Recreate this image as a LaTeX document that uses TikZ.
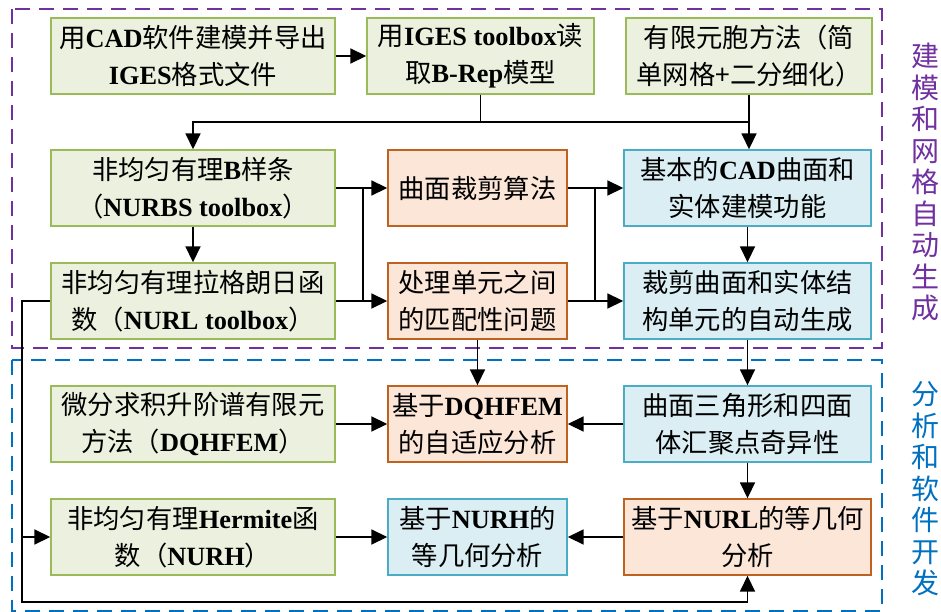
\documentclass[tikz,border=0pt]{standalone}
\usepackage{fontspec}
\setmainfont{Noto Sans CJK SC}
\newfontfamily\latfont{Liberation Serif}
\newcommand\la[1]{{\latfont\bfseries #1}}
\usetikzlibrary{arrows.meta}
\definecolor{gfill}{HTML}{EBF1DE}
\definecolor{gline}{HTML}{9BBB59}
\definecolor{ofill}{HTML}{FCE6D8}
\definecolor{oline}{HTML}{C0621F}
\definecolor{bfill}{HTML}{DAEEF3}
\definecolor{bline}{HTML}{4BACC6}
\definecolor{purp}{HTML}{7030A0}
\definecolor{blu}{HTML}{0070C0}
\tikzset{
  boxbase/.style={draw, line width=1.4pt, inner sep=0pt, align=center,
    minimum height=76pt, text=black, font=\fontsize{26.3}{37}\selectfont},
  gbox/.style={boxbase, fill=gfill, draw=gline},
  obox/.style={boxbase, fill=ofill, draw=oline},
  bbox/.style={boxbase, fill=bfill, draw=bline},
  conn/.style={draw=black, line width=1.7pt},
  arr/.style={conn, -{Triangle[length=16pt,width=15pt]}},
  frame/.style={line width=2pt, dash pattern=on 15pt off 9pt},
  sidelab/.style={align=center, inner sep=0pt, font=\fontsize{28}{31.5}\selectfont}
}
\begin{document}
\begin{tikzpicture}[x=1pt,y=-1pt]
\useasboundingbox (0,0) rectangle (941,612);
% frames
\draw[frame, draw=purp] (12,9) rectangle (882,348);
\draw[frame, draw=blu] (12,360) rectangle (882,611);
% side labels
\node[sidelab, text=purp] (lab1) at (925,182) {建\\模\\和\\网\\格\\自\\动\\生\\成};
\node[sidelab, text=blu] (lab2) at (925,489) {分\\析\\和\\软\\件\\开\\发};
% row 1
\node[gbox, minimum width=284pt] (b11) at (193,56) {用\la{CAD}软件建模并导出\\\la{IGES}格式文件};
\node[gbox, minimum width=227pt] (b12) at (480.5,56) {用\la{IGES toolbox}读\\取\la{B-Rep}模型};
\node[gbox, minimum width=246pt] (b13) at (749,56) {有限元胞方法（简\\单网格+二分细化）};
% row 2
\node[gbox, minimum width=284pt] (b21) at (193,188) {非均匀有理\la{B}样条\\（\la{NURBS toolbox}）};
\node[obox, minimum width=179pt] (b22) at (477.5,188) {曲面裁剪算法};
\node[bbox, minimum width=247pt] (b23) at (747.5,188) {基本的\la{CAD}曲面和\\实体建模功能};
% row 3
\node[gbox, minimum width=284pt] (b31) at (193,301) {非均匀有理拉格朗日函\\数（\la{NURL toolbox}）};
\node[obox, minimum width=179pt] (b32) at (477.5,301) {处理单元之间\\的匹配性问题};
\node[bbox, minimum width=247pt] (b33) at (747.5,301) {裁剪曲面和实体结\\构单元的自动生成};
% row 4
\node[gbox, minimum width=284pt] (b41) at (193,424) {微分求积升阶谱有限元\\方法（\la{DQHFEM}）};
\node[obox, minimum width=179pt] (b42) at (477.5,424) {基于\la{DQHFEM}\\的自适应分析};
\node[bbox, minimum width=247pt] (b43) at (747.5,424) {曲面三角形和四面\\体汇聚点奇异性};
% row 5
\node[gbox, minimum width=284pt] (b51) at (193,537) {非均匀有理\la{Hermite}函\\数（\la{NURH}）};
\node[bbox, minimum width=179pt] (b52) at (477.5,537) {基于\la{NURH}的\\等几何分析};
\node[obox, minimum width=247pt] (b53) at (747.5,537) {基于\la{NURL}的等几何\\分析};
% junction coordinates
\coordinate (j1) at (748,122);
\coordinate (v1a) at (363,188);
\coordinate (v1b) at (363,301);
\coordinate (v2a) at (595,188);
\coordinate (v2b) at (595,301);
\coordinate (lp1) at (22,301);
\coordinate (lp2) at (22,602);
\coordinate (lp3) at (22,537);
% connectors
\draw[arr] (b11.east) -- (b12.west);
\draw[conn] (b12.south) -- (b12.south |- j1);
\draw[arr] (j1) -| (b21.north);
\draw[arr] (b13.south) -- (b13.south |- b23.north);
\draw[arr] (b21.east) -- (b22.west);
\draw[conn] (v1a) -- (v1b);
\draw[arr] (b31.east) -- (b32.west);
\draw[arr] (b22.east) -- (b23.west);
\draw[conn] (v2a) -- (v2b);
\draw[arr] (b32.east) -- (b33.west);
\draw[arr] (b21.south) -- (b31.north);
\draw[arr] (b23.south) -- (b33.north);
\draw[arr] (b32.south) -- (b42.north);
\draw[arr] (b33.south) -- (b43.north);
\draw[arr] (b43.west) -- (b42.east);
\draw[arr] (b41.east) -- (b42.west);
\draw[arr] (b43.south) -- (b53.north);
\draw[arr] (b53.west) -- (b52.east);
\draw[arr] (b51.east) -- (b52.west);
\draw[arr] (b31.west) -- (lp1) -- (lp2) -| (b53.south);
\draw[arr] (lp3) -- (b51.west);
\end{tikzpicture}
\end{document}
